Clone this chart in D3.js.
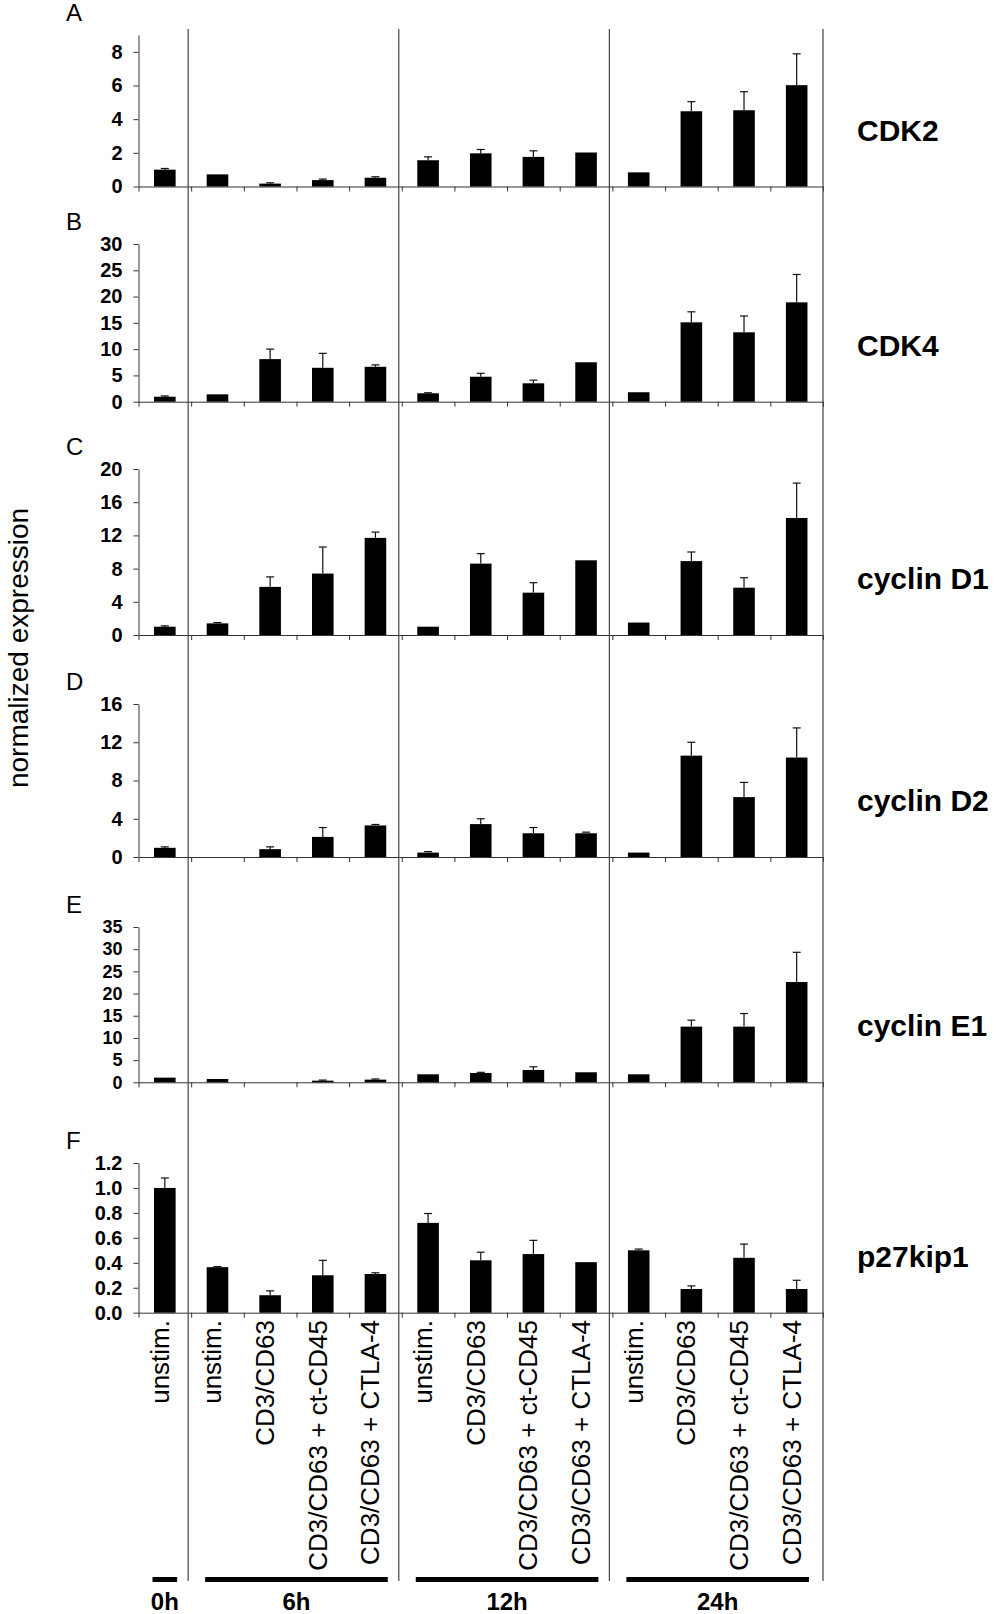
<!DOCTYPE html>
<html>
<head>
<meta charset="utf-8">
<script src="https://cdn.jsdelivr.net/npm/d3@7"></script>
<style>
  body { margin: 0; background: #fff; }
  svg text { font-family: "Liberation Sans", Arial, sans-serif; fill: #000; }
</style>
</head>
<body>
<svg id="chart" width="996" height="1614"></svg>
<script>
// ─── DATA ────────────────────────────────────────────────────────────────────
const categories = [
  'unstim.',
  'unstim.', 'CD3/CD63', 'CD3/CD63 + ct-CD45', 'CD3/CD63 + CTLA-4',
  'unstim.', 'CD3/CD63', 'CD3/CD63 + ct-CD45', 'CD3/CD63 + CTLA-4',
  'unstim.', 'CD3/CD63', 'CD3/CD63 + ct-CD45', 'CD3/CD63 + CTLA-4'
];
const timepoints = ['0h', '6h', '12h', '24h'];
const groupSizes = [1, 4, 4, 4];

const genes   = ['CDK2', 'CDK4', 'cyclin D1', 'cyclin D2', 'cyclin E1', 'p27kip1'];
const letters = ['A', 'B', 'C', 'D', 'E', 'F'];

// means and (upper) error per category, null = no bar
const cdk2Mean = [1.0, 0.72, 0.17, 0.38, 0.52, 1.56, 1.97, 1.76, 2.02, 0.84, 4.47, 4.53, 6.02];
const cdk2Err  = [0.07, 0, 0.05, 0.06, 0.06, 0.2, 0.23, 0.36, 0, 0, 0.57, 1.1, 1.86];

const cdk4Mean = [0.95, 1.4, 8.1, 6.45, 6.64, 1.6, 4.75, 3.5, 7.5, 1.8, 15.1, 13.2, 18.9];
const cdk4Err  = [0.15, 0, 1.9, 2.75, 0.36, 0.1, 0.65, 0.6, 0, 0, 2.0, 3.1, 5.3];

const ccnd1Mean = [1.0, 1.4, 5.8, 7.4, 11.7, 1.0, 8.6, 5.1, 9.0, 1.5, 8.9, 5.7, 14.1];
const ccnd1Err  = [0.1, 0.1, 1.2, 3.2, 0.7, 0, 1.2, 1.2, 0, 0, 1.1, 1.2, 4.2];

const ccnd2Mean = [0.96, null, 0.82, 2.1, 3.3, 0.46, 3.44, 2.48, 2.48, 0.46, 10.6, 6.26, 10.4];
const ccnd2Err  = [0.1, 0, 0.24, 0.98, 0.1, 0.11, 0.56, 0.6, 0.12, 0, 1.4, 1.54, 3.1];

const ccne1Mean = [1.05, 0.75, null, 0.37, 0.6, 1.8, 2.1, 2.78, 2.26, 1.8, 12.55, 12.55, 22.6];
const ccne1Err  = [0, 0, 0, 0.13, 0.15, 0, 0.15, 0.72, 0, 0, 1.45, 2.95, 6.7];

const p27Mean = [1.0, 0.365, 0.14, 0.3, 0.31, 0.72, 0.42, 0.47, 0.405, 0.5, 0.19, 0.44, 0.19];
const p27Err  = [0.08, 0.005, 0.035, 0.12, 0.01, 0.075, 0.065, 0.11, 0, 0.01, 0.025, 0.11, 0.07];

const cdk2Ticks  = [0, 2, 4, 6, 8];
const cdk4Ticks  = [0, 5, 10, 15, 20, 25, 30];
const ccnd1Ticks = [0, 4, 8, 12, 16, 20];
const ccnd2Ticks = [0, 4, 8, 12, 16];
const ccne1Ticks = [0, 5, 10, 15, 20, 25, 30, 35];
const p27Ticks   = [0, 0.2, 0.4, 0.6, 0.8, 1.0, 1.2];

const yMax = [9, 30, 20, 16, 35, 1.2];

// ─── LAYOUT ──────────────────────────────────────────────────────────────────
const X0 = 138.5, X1 = 823;
const panelTop  = [35, 244, 469, 704, 927, 1163];
const panelZero = [186.5, 401.7, 635, 857, 1082.3, 1312.7];
const LABEL_Y = 1320, TIMEBAR_Y = 1577, SEP_TOP = 29, SEP_BOTTOM = 1581;

const panels = [
  { mean: cdk2Mean,  err: cdk2Err,  ticks: cdk2Ticks,  fmt: d3.format('d'),   tickFont: 20 },
  { mean: cdk4Mean,  err: cdk4Err,  ticks: cdk4Ticks,  fmt: d3.format('d'),   tickFont: 20 },
  { mean: ccnd1Mean, err: ccnd1Err, ticks: ccnd1Ticks, fmt: d3.format('d'),   tickFont: 20 },
  { mean: ccnd2Mean, err: ccnd2Err, ticks: ccnd2Ticks, fmt: d3.format('d'),   tickFont: 20 },
  { mean: ccne1Mean, err: ccne1Err, ticks: ccne1Ticks, fmt: d3.format('d'),   tickFont: 18 },
  { mean: p27Mean,   err: p27Err,   ticks: p27Ticks,   fmt: d3.format('.1f'), tickFont: 20 }
];

const svg = d3.select('#chart');

const idx = categories.map((c, i) => i);
const x = d3.scaleBand().domain(idx).range([X0, X1]).paddingInner(0.59).paddingOuter(0.295);
const xb = d3.scaleLinear().domain([0, categories.length]).range([X0, X1]);

// group boundaries
const starts = groupSizes.map((n, i) => d3.sum(groupSizes.slice(0, i)));

// ─── PANELS ──────────────────────────────────────────────────────────────────
panels.forEach((p, pi) => {
  const top = panelTop[pi], zero = panelZero[pi];
  const y = d3.scaleLinear().domain([0, yMax[pi]]).range([zero, top]);
  const g = svg.append('g');

  // y axis
  const ya = g.append('g')
    .attr('transform', `translate(${X0},0)`)
    .call(d3.axisLeft(y).tickValues(p.ticks).tickFormat(p.fmt)
      .tickSize(5).tickSizeOuter(0).tickPadding(11));
  ya.selectAll('text')
    .style('font-size', p.tickFont + 'px').style('font-weight', 'bold')
    .style('font-family', '"Liberation Sans", Arial, sans-serif');

  // x axis (ticks at category boundaries, no labels)
  g.append('g')
    .attr('transform', `translate(0,${zero})`)
    .call(d3.axisBottom(xb).tickValues(d3.range(0, categories.length + 1))
      .tickFormat('').tickSize(5).tickSizeOuter(0));

  g.selectAll('.domain, .tick line').attr('stroke', '#333');

  // bars
  const rows = p.mean.map((v, i) => ({ i, v, e: p.err[i] })).filter(d => d.v != null);

  g.selectAll('rect.bar').data(rows).join('rect')
    .attr('class', 'bar')
    .attr('x', d => x(d.i))
    .attr('width', x.bandwidth())
    .attr('y', d => y(d.v))
    .attr('height', d => y(0) - y(d.v))
    .attr('fill', '#000');

  // error bars (upper only)
  const eb = g.selectAll('g.err').data(rows.filter(d => d.e > 0)).join('g').attr('class', 'err');
  eb.append('line')
    .attr('x1', d => x(d.i) + x.bandwidth() / 2).attr('x2', d => x(d.i) + x.bandwidth() / 2)
    .attr('y1', d => y(d.v)).attr('y2', d => y(d.v + d.e))
    .attr('stroke', '#111').attr('stroke-width', 1.2);
  eb.append('line')
    .attr('x1', d => x(d.i) + x.bandwidth() / 2 - 4).attr('x2', d => x(d.i) + x.bandwidth() / 2 + 4)
    .attr('y1', d => y(d.v + d.e)).attr('y2', d => y(d.v + d.e))
    .attr('stroke', '#111').attr('stroke-width', 1.2);

  // panel letter
  g.append('text')
    .attr('x', 66).attr('y', top - 14)
    .style('font-size', '24px')
    .text(letters[pi]);

  // gene name
  g.append('text')
    .attr('x', 857).attr('y', zero - 46)
    .style('font-size', '30px').style('font-weight', 'bold')
    .text(genes[pi]);
});

// ─── SEPARATORS ──────────────────────────────────────────────────────────────
const sepX = starts.slice(1).map(s => xb(s) - 3).concat([X1]);
svg.selectAll('line.sep').data(sepX).join('line')
  .attr('class', 'sep')
  .attr('x1', d => d).attr('x2', d => d)
  .attr('y1', SEP_TOP).attr('y2', SEP_BOTTOM)
  .attr('stroke', '#444').attr('stroke-width', 1.2);

// ─── CATEGORY LABELS ─────────────────────────────────────────────────────────
svg.selectAll('text.cat').data(categories).join('text')
  .attr('class', 'cat')
  .attr('transform', (d, i) => `translate(${x(i) + x.bandwidth() / 2 + 4},${LABEL_Y}) rotate(-90)`)
  .attr('text-anchor', 'end')
  .style('font-size', '26px')
  .text(d => d);

// ─── TIME BARS & LABELS ──────────────────────────────────────────────────────
const inset = 14;
timepoints.forEach((t, gi) => {
  const a = xb(starts[gi]) + inset, b = xb(starts[gi] + groupSizes[gi]) - inset;
  svg.append('rect')
    .attr('x', a).attr('y', TIMEBAR_Y)
    .attr('width', b - a).attr('height', 5)
    .attr('fill', '#000');
  svg.append('text')
    .attr('x', (a + b) / 2).attr('y', 1610)
    .attr('text-anchor', 'middle')
    .style('font-size', '24px').style('font-weight', 'bold')
    .text(t);
});

// ─── Y TITLE ─────────────────────────────────────────────────────────────────
svg.append('text')
  .attr('transform', 'translate(28,648) rotate(-90)')
  .attr('text-anchor', 'middle')
  .style('font-size', '28px')
  .text('normalized expression');
</script>
</body>
</html>
